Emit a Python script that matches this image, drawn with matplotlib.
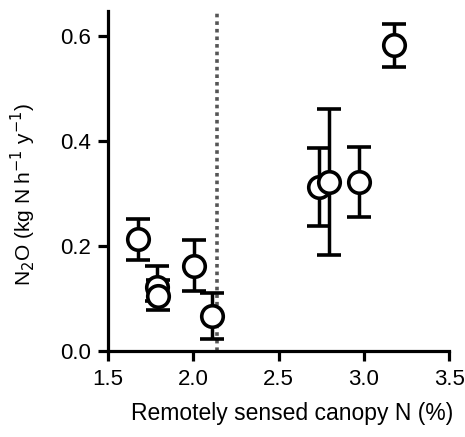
import matplotlib
matplotlib.use("Agg")
import matplotlib.pyplot as plt

canopy_n = [1.674, 1.786, 1.795, 2.002, 2.110, 2.738, 2.796, 2.970, 3.174]
n2o = [0.213, 0.122, 0.105, 0.162, 0.067, 0.313, 0.321, 0.321, 0.583]
err_low = [0.173, 0.095, 0.078, 0.114, 0.023, 0.239, 0.182, 0.255, 0.541]
err_high = [0.251, 0.161, 0.135, 0.211, 0.111, 0.386, 0.461, 0.388, 0.623]
threshold = 2.141
xticks = [1.5, 2.0, 2.5, 3.0, 3.5]
yticks = [0.0, 0.2, 0.4, 0.6]

plt.rcParams['font.family'] = ['Liberation Sans', 'DejaVu Sans']

fig = plt.figure(figsize=(4.65, 4.37), dpi=100)
ax = fig.add_axes([0.232, 0.197, 0.734, 0.778])

yerr = [[v - lo for v, lo in zip(n2o, err_low)], [hi - v for v, hi in zip(n2o, err_high)]]
ax.axvline(threshold, color='#555555', lw=2.6, linestyle=(0, (1, 1.1)), zorder=1)
ax.errorbar(canopy_n, n2o, yerr=yerr, fmt='o', ms=15.5, mfc='white', mec='black', mew=2.6,
            ecolor='black', elinewidth=2.5, capsize=8.5, capthick=2.5, zorder=3)

ax.set_xlim(1.5, 3.5)
ax.set_ylim(0, 0.648)
ax.set_xticks(xticks)
ax.set_xticklabels([f"{t:.1f}" for t in xticks])
ax.set_yticks(yticks)
ax.set_yticklabels([f"{t:.1f}" for t in yticks])
for s in ['top', 'right']:
    ax.spines[s].set_visible(False)
for s in ['left', 'bottom']:
    ax.spines[s].set_linewidth(2.3)
ax.tick_params(width=2.3, length=7, labelsize=16, direction='out')
ax.tick_params(axis='x', pad=6)
ax.tick_params(axis='y', pad=5)
ax.set_xlabel('Remotely sensed canopy N (%)', fontsize=16.5)
ax.xaxis.set_label_coords(0.54, -0.15)
ax.set_ylabel(r'N$_2$O (kg N h$^{-1}$ y$^{-1}$)', fontsize=15)
ax.yaxis.set_label_coords(-0.205, 0.46)

fig.savefig('out.png', dpi=100)
